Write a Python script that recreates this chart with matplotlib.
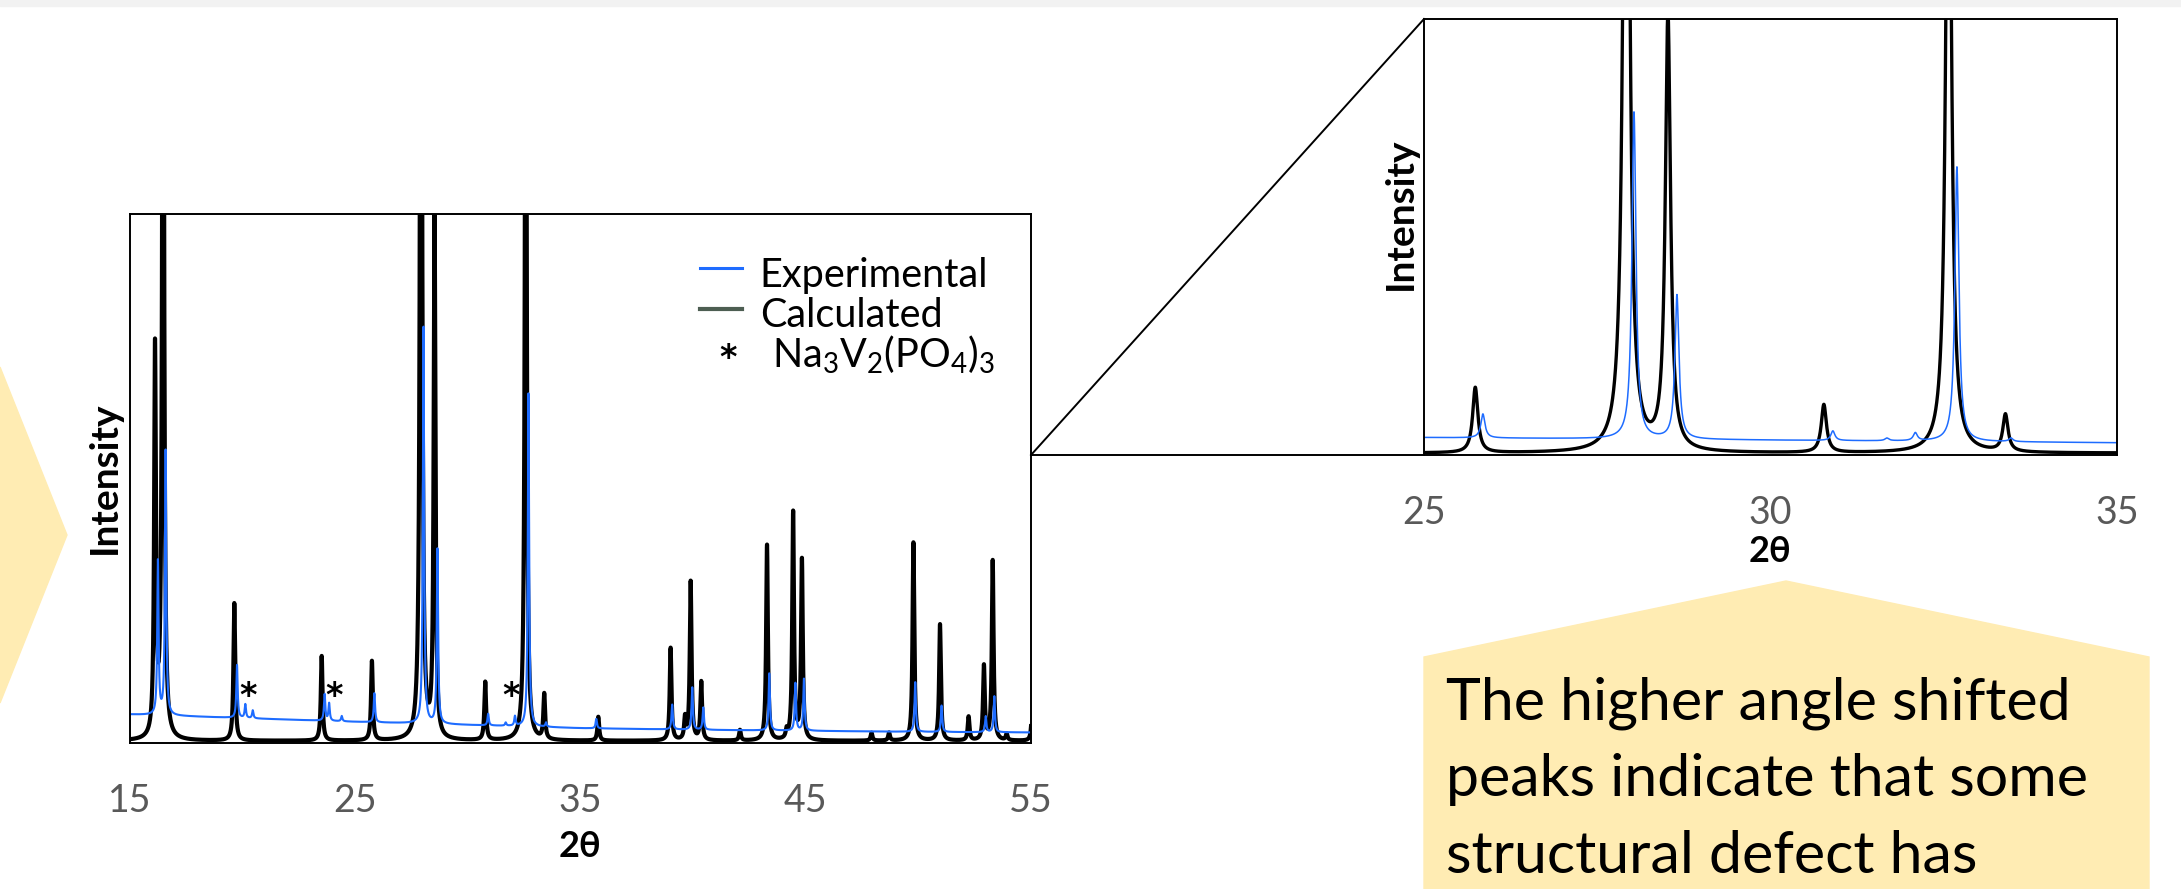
import numpy as np
import matplotlib.pyplot as plt
from matplotlib.patches import Polygon, Rectangle
from matplotlib.lines import Line2D

plt.rcParams['font.family'] = ['Lato', 'DejaVu Sans']
plt.rcParams['mathtext.fontset'] = 'custom'
plt.rcParams['mathtext.rm'] = 'Lato'
plt.rcParams['mathtext.it'] = 'Lato:italic'
plt.rcParams['mathtext.bf'] = 'Lato:bold'

# Calculated pattern: peak positions (2theta) and heights (fraction of axis height)
calc_pos = [16.11, 16.47, 19.63, 23.51, 25.74, 27.92, 28.52, 30.77, 32.57, 33.39,
            35.79, 39.00, 39.64, 39.89, 40.36, 42.08, 43.28, 44.15, 44.44, 44.83,
            47.92, 48.70, 49.78, 50.96, 52.23, 52.91, 53.30, 53.92, 55.05]
calc_height = [0.73, 2.0, 0.26, 0.16, 0.15, 2.5, 1.0, 0.11, 1.8, 0.085,
               0.045, 0.175, 0.04, 0.30, 0.11, 0.02, 0.37, 0.015, 0.43, 0.34,
               0.015, 0.015, 0.375, 0.22, 0.045, 0.14, 0.34, 0.012, 0.06]
calc_hwhm = 0.045
calc_base = 0.004

# Experimental pattern: peak positions and heights above the background
exp_pos = [16.24, 16.58, 19.75, 20.12, 20.45, 23.64, 23.84, 24.40, 25.85, 28.03,
           28.65, 30.90, 31.68, 32.09, 32.69, 33.47, 35.70, 39.07, 39.96, 40.45,
           43.38, 44.54, 44.92, 49.86, 51.03, 52.99, 53.37]
exp_height = [0.29, 0.50, 0.10, 0.026, 0.015, 0.05, 0.033, 0.01, 0.055, 0.75,
              0.33, 0.022, 0.006, 0.018, 0.63, 0.008, 0.018, 0.047, 0.08, 0.042,
              0.108, 0.09, 0.098, 0.094, 0.05, 0.03, 0.068]
exp_hwhm = 0.035
bg_pos = [15, 20, 25, 30, 35, 40, 45, 50, 55]
bg_level = [0.054, 0.047, 0.040, 0.034, 0.028, 0.025, 0.023, 0.021, 0.020]

# Na3V2(PO4)3 impurity marks
star_pos = [20.23, 24.04, 31.91]
star_level = 0.07

main_ticks = [15, 25, 35, 45, 55]
inset_ticks = [25, 30, 35]
note_lines = ['The higher angle shifted', 'peaks indicate that some',
              'structural defect has']

blue = '#1e6cff'
yellow = '#ffecb3'
W, H = 2181, 889


def fx(px):
    return px / W


def fy(py):
    return 1 - py / H


tt = np.linspace(15, 55.2, 20001)


def pattern(pos, height, hwhm):
    y = np.zeros_like(tt)
    for p, h in zip(pos, height):
        y += h * hwhm ** 2 / ((tt - p) ** 2 + hwhm ** 2)
    return y


calc = pattern(calc_pos, calc_height, calc_hwhm) + calc_base
expt = pattern(exp_pos, exp_height, exp_hwhm) + np.interp(tt, bg_pos, bg_level)

fig = plt.figure(figsize=(W / 100, H / 100), dpi=100)

# slide decorations
fig.patches.append(Rectangle((0, fy(6)), 1, 6 / H, transform=fig.transFigure,
                             color='#f2f2f2', zorder=-2))
fig.patches.append(Polygon([(fx(0), fy(367)), (fx(67), fy(535)), (fx(0), fy(703))],
                           closed=True, transform=fig.transFigure,
                           color=yellow, zorder=-1))
fig.patches.append(Polygon([(fx(1424), fy(900)), (fx(1424), fy(657)), (fx(1786), fy(581)),
                            (fx(2149), fy(657)), (fx(2149), fy(900))],
                           closed=True, transform=fig.transFigure,
                           color=yellow, zorder=-1))
for i, line in enumerate(note_lines):
    fig.text(fx(1446), fy(719 + 77 * i), line, fontsize=42.5, va='baseline')

# main pattern
ax = fig.add_axes([fx(130), fy(743), fx(1031) - fx(130), fy(214) - fy(743)])
ax.plot(tt, calc, color='black', lw=3)
ax.plot(tt, expt, color=blue, lw=1.5)
ax.set_xlim(15, 55)
ax.set_ylim(0, 1)
ax.set_xticks(main_ticks)
ax.set_yticks([])
ax.tick_params(axis='x', length=0, pad=29, labelsize=27, labelcolor='#595959')
ax.set_xlabel('2θ', fontsize=26, fontweight='bold', labelpad=8)
for s in ax.spines.values():
    s.set_linewidth(1.4)
for p in star_pos:
    ax.text(p, star_level, '*', ha='center', va='baseline', fontsize=24,
            family='DejaVu Sans', fontweight='bold')

# legend drawn by hand
ax.plot([0.633, 0.679], [0.898, 0.898], transform=ax.transAxes, color=blue, lw=2.2)
ax.plot([0.633, 0.679], [0.820, 0.820], transform=ax.transAxes, color='#4d5e52', lw=3)
ax.text(0.699, 0.862, 'Experimental', transform=ax.transAxes, fontsize=28.5, va='baseline')
ax.text(0.699, 0.786, 'Calculated', transform=ax.transAxes, fontsize=28.5, va='baseline')
ax.text(0.664, 0.709, '*', transform=ax.transAxes, fontsize=24, va='baseline', ha='center',
        family='DejaVu Sans', fontweight='bold')
ax.text(0.7125, 0.709, r'Na$_3$V$_2$(PO$_4$)$_3$', transform=ax.transAxes,
        fontsize=28.5, va='baseline')

# zoomed inset
ins = fig.add_axes([fx(1424), fy(455), fx(2117) - fx(1424), fy(19) - fy(455)])
ins.plot(tt, calc, color='black', lw=2.4)
ins.plot(tt, expt, color=blue, lw=1.1)
ins.set_xlim(25, 35)
ins.set_ylim(0, 1)
ins.set_xticks(inset_ticks)
ins.set_yticks([])
ins.tick_params(axis='x', length=0, pad=29, labelsize=27, labelcolor='#595959')
ins.set_xlabel('2θ', fontsize=26, fontweight='bold', labelpad=3)
for s in ins.spines.values():
    s.set_linewidth(1.4)

fig.text(fx(104), fy(478), 'Intensity', rotation=90, ha='center', va='center',
         fontsize=28, fontweight='bold')
fig.text(fx(1400), fy(214), 'Intensity', rotation=90, ha='center', va='center',
         fontsize=28, fontweight='bold')

# zoom connector lines
fig.lines.append(Line2D([fx(1031), fx(1424)], [fy(455), fy(455)],
                        transform=fig.transFigure, color='black', lw=1.4))
fig.lines.append(Line2D([fx(1031), fx(1424)], [fy(455), fy(19)],
                        transform=fig.transFigure, color='black', lw=1.4))

fig.savefig('out.png', dpi=100)
